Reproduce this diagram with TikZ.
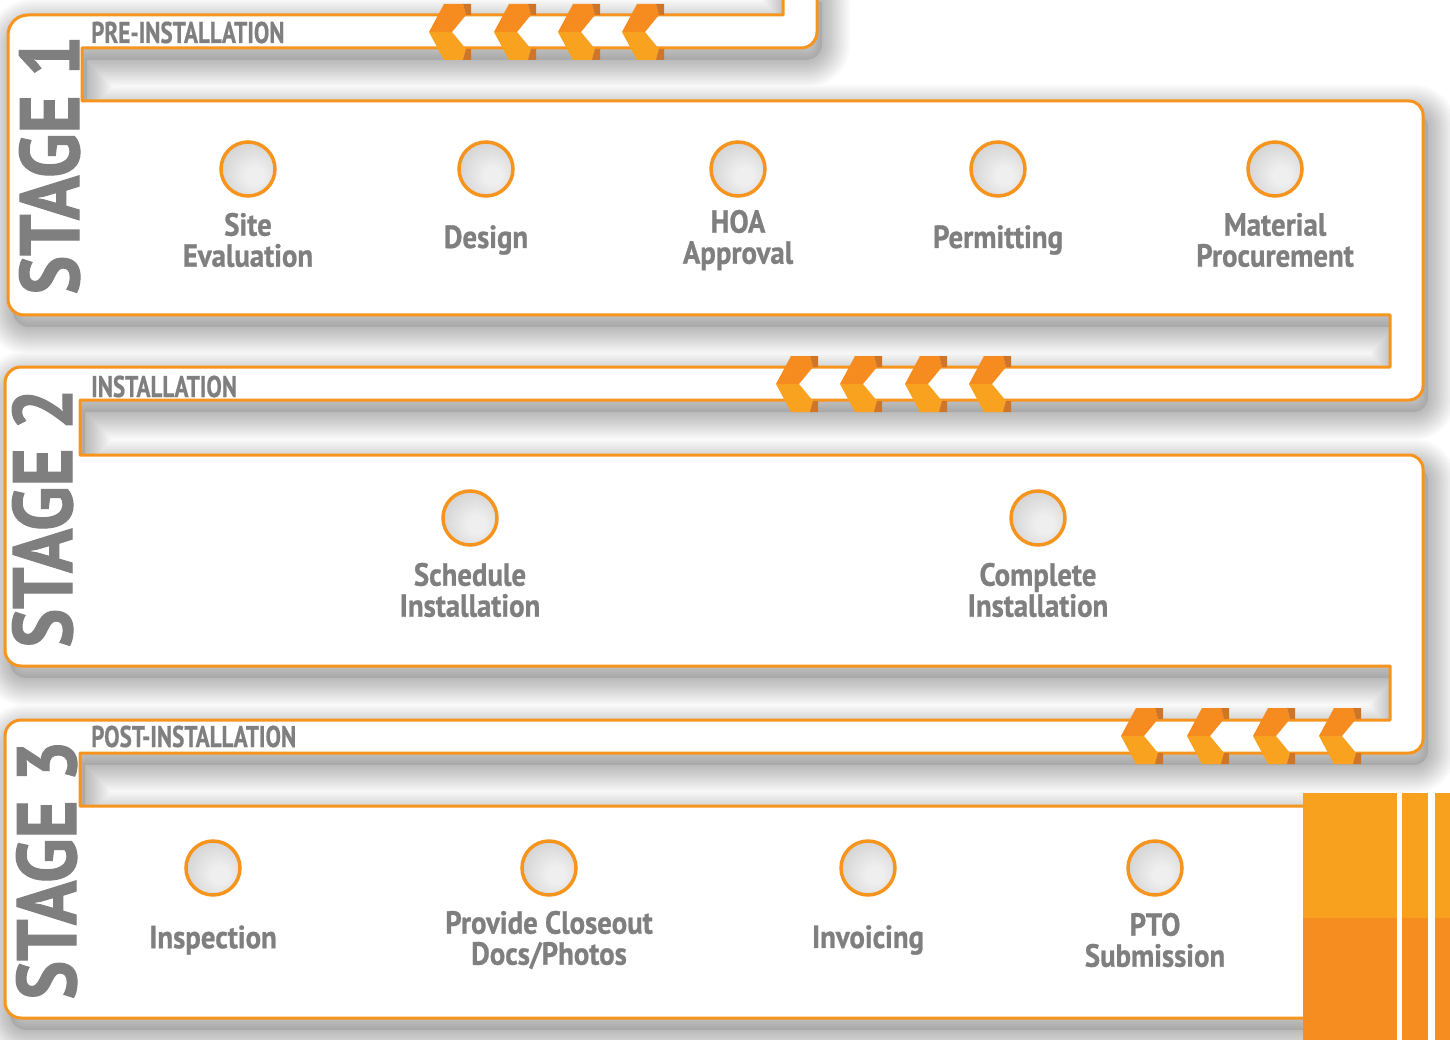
\documentclass[tikz,border=0pt]{standalone}
\usepackage{fontspec}
\setmainfont{PT Sans}
\newfontfamily\lblfont{PT Sans}[FakeStretch=0.9, BoldFeatures={FakeBold=0.8}]
\newfontfamily\stgfont{PT Sans}[FakeStretch=0.87, BoldFeatures={FakeBold=1.2}]
\newfontfamily\hdfont{PT Sans}[FakeStretch=0.77, BoldFeatures={FakeBold=0.6}]
\definecolor{org}{HTML}{F7941D}
\definecolor{chevA}{HTML}{F68B1F}
\definecolor{chevB}{HTML}{F8A21F}
\definecolor{chevD}{HTML}{CF7528}
\definecolor{txt}{HTML}{7F7F7F}
\definecolor{barA}{HTML}{F8A11E}
\definecolor{barB}{HTML}{F58D20}
\definecolor{dotin}{HTML}{EFEFEF}
\definecolor{dotmid}{HTML}{D2D2D2}
\definecolor{dotout}{HTML}{A2A2A2}
\pgfdeclareradialshading{dotshade}{\pgfpoint{7bp}{-7bp}}{color(0bp)=(dotin); color(8bp)=(dotin); color(32bp)=(dotmid); color(55bp)=(dotout); color(70bp)=(dotout)}
\def\snakepath{(783,-10) [sharp corners] -- (783,15) [rounded corners=20] -- (8,15) [rounded corners=16] -- (8,315) [sharp corners] -- (1390,315) -- (1390,367) [rounded corners=16] -- (5,367) -- (5,666) [sharp corners] -- (1390,666) -- (1390,720) [rounded corners=16] -- (5,720) -- (5,1018) [sharp corners] -- (1310,1018) -- (1310,806) -- (80,806) -- (80,753) [rounded corners=14] -- (1423,753) -- (1423,455) [sharp corners] -- (80,455) -- (80,400) [rounded corners=14] -- (1423,400) -- (1423,101) [sharp corners] -- (82,101) -- (82,48) [rounded corners=16] -- (817,48) [sharp corners] -- (817,-10) -- cycle}
\newcommand\chevmark[2]{%
  \begin{scope}[shift={(#1,#2)}]
    \fill[chevA] (0,0) -- (15,-28) -- (34,-28) -- (37,-17) -- (23,0) -- cycle;
    \fill[chevD] (34,-28) -- (42,-28) -- (42,-17) -- (37,-17) -- cycle;
    \fill[chevB] (0,0) -- (15,28) -- (34,28) -- (37,17) -- (23,0) -- cycle;
    \fill[chevD] (34,28) -- (42,28) -- (42,17) -- (37,17) -- cycle;
  \end{scope}}
\begin{document}
\begin{tikzpicture}[x=1pt,y=-1pt,
  dot/.style={circle, draw=org, line width=3.5pt, minimum size=54pt, inner sep=0pt, shading=dotshade},
  lbl/.style={font=\lblfont\bfseries\fontsize{32}{31}\selectfont, text=txt, align=center, inner sep=0pt},
  stg/.style={font=\stgfont\bfseries\fontsize{84}{84}\selectfont, text=txt, inner sep=0pt, rotate=90, anchor=base},
  hd/.style={font=\hdfont\bfseries\fontsize{30}{30}\selectfont, text=txt, inner sep=0pt, anchor=base west}]
\useasboundingbox (0,0) rectangle (1450,1040);
\fill[white] (0,0) rectangle (1450,1040);
% shadow
\fill[black, opacity=0.09, shift={(5,12)}] \snakepath;
\foreach \w in {4,8,...,56} {
  \draw[black, opacity=0.02, line width=\w pt, line join=round, shift={(5,12)}] \snakepath;
}
% main band
\draw[org, line width=3pt, fill=white, line join=round] \snakepath;
% chevrons
\foreach \cx in {429,494,558,622} {\chevmark{\cx}{32}}
\foreach \cx in {776,840,905,969} {\chevmark{\cx}{384}}
\foreach \cx in {1121,1187,1253,1319} {\chevmark{\cx}{736}}
% headers
\node[hd] (h1) at (91,43) {PRE-INSTALLATION};
\node[hd] (h2) at (91,397) {INSTALLATION};
\node[hd] (h3) at (91,747) {POST-INSTALLATION};
% stage labels
\node[stg] (st1) at (79,165) {STAGE 1};
\node[stg] (st2) at (72,518) {STAGE 2};
\node[stg] (st3) at (76,870) {STAGE 3};
% stage 1
\node[dot] (a1) at (248,169) {};
\node[dot] (a2) at (486,169) {};
\node[dot] (a3) at (738,169) {};
\node[dot] (a4) at (998,169) {};
\node[dot] (a5) at (1275,169) {};
\node[lbl] (a1t) at (248,240) {Site\\Evaluation};
\node[lbl] (a2t) at (486,240) {Design};
\node[lbl] (a3t) at (738,240) {HOA\\Approval};
\node[lbl] (a4t) at (998,240) {Permitting};
\node[lbl] (a5t) at (1275,240) {Material\\Procurement};
% stage 2
\node[dot] (b1) at (470,518) {};
\node[dot] (b2) at (1038,518) {};
\node[lbl] (b1t) at (470,590) {Schedule\\Installation};
\node[lbl] (b2t) at (1038,590) {Complete\\Installation};
% stage 3
\node[dot] (c1) at (213,868) {};
\node[dot] (c2) at (549,868) {};
\node[dot] (c3) at (868,868) {};
\node[dot] (c4) at (1155,868) {};
\node[lbl] (c1t) at (213,940) {Inspection};
\node[lbl] (c2t) at (549,940) {Provide Closeout\\Docs/Photos};
\node[lbl] (c3t) at (868,940) {Invoicing};
\node[lbl] (c4t) at (1155,940) {PTO\\Submission};
% bars
\fill[barA] (1303,793) rectangle (1397,918);
\fill[barB] (1303,918) rectangle (1397,1040);
\fill[barA] (1402,793) rectangle (1428,918);
\fill[barB] (1402,918) rectangle (1428,1040);
\fill[barA] (1435,793) rectangle (1450,918);
\fill[barB] (1435,918) rectangle (1450,1040);
\end{tikzpicture}
\end{document}
